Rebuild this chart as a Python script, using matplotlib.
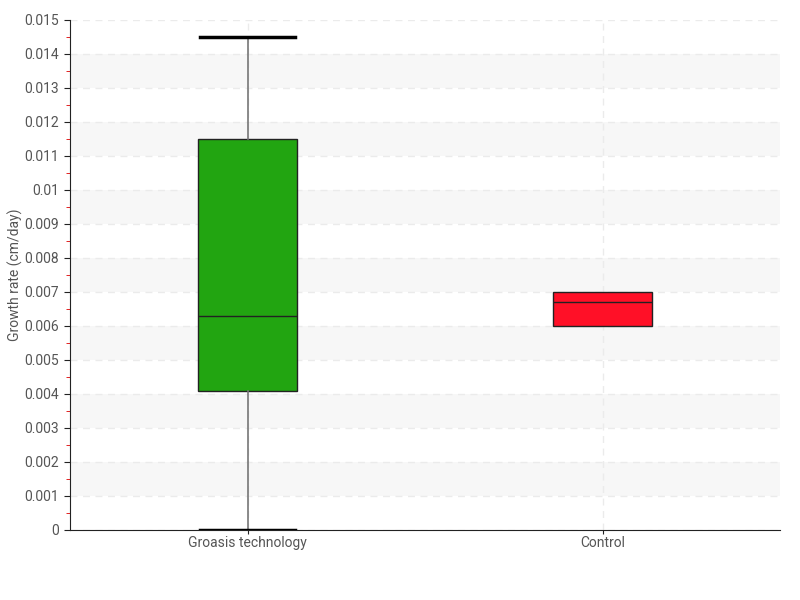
import matplotlib
matplotlib.use("Agg")
import matplotlib.pyplot as plt
from matplotlib.ticker import MultipleLocator

categories = ["Groasis technology", "Control"]
whisker_low = [0.0, 0.006]
q1 = [0.0041, 0.006]
median = [0.0063, 0.0067]
q3 = [0.0115, 0.007]
whisker_high = [0.0145, 0.007]
box_colors = ["#22a511", "#ff1027"]
y_ticks = [round(i * 0.001, 3) for i in range(16)]

plt.rcParams["font.family"] = ["Roboto", "DejaVu Sans"]

fig = plt.figure(figsize=(8, 6), dpi=100)
ax = fig.add_axes([0.0875, 0.1167, 0.8875, 0.85])

positions = [0.5, 1.5]
stats = [
    {"whislo": lo, "q1": a, "med": m, "q3": b, "whishi": hi, "label": c}
    for lo, a, m, b, hi, c in zip(whisker_low, q1, median, q3, whisker_high, categories)
]

# alternating bands
for start in range(1, 15, 2):
    ax.axhspan(start * 0.001, (start + 1) * 0.001, color="#f7f7f7", zorder=0, lw=0)

bp = ax.bxp(
    stats,
    positions=positions,
    widths=0.28,
    patch_artist=True,
    showfliers=False,
    boxprops=dict(edgecolor="#222222", linewidth=1),
    medianprops=dict(color="#222222", linewidth=1),
    whiskerprops=dict(color="#777777", linewidth=1.2),
    capprops=dict(color="black", linewidth=2.5),
    capwidths=0.27,
    zorder=3,
)
for patch, color in zip(bp["boxes"], box_colors):
    patch.set_facecolor(color)
# caps that sit on the box edge are not drawn
for i, s in enumerate(stats):
    if s["whislo"] == s["q1"]:
        bp["caps"][2 * i].set_visible(False)
    if s["whishi"] == s["q3"]:
        bp["caps"][2 * i + 1].set_visible(False)

ax.set_xlim(0, 2)
ax.set_ylim(0, 0.015)
ax.set_yticks(y_ticks)
ax.set_yticklabels([f"{v:g}" for v in y_ticks])
ax.yaxis.set_minor_locator(MultipleLocator(0.0005))
ax.set_xticks(positions)
ax.set_xticklabels(categories)

ax.grid(axis="y", color="#ebebeb", linestyle=(0, (5, 4)), linewidth=1, zorder=1)
ax.grid(axis="x", color="#ebebeb", linestyle=(0, (5, 4)), linewidth=1, zorder=1)
ax.set_axisbelow(True)

for side in ["top", "right"]:
    ax.spines[side].set_visible(False)
ax.spines["left"].set_color("#222222")
ax.spines["bottom"].set_color("#222222")

ax.tick_params(axis="y", which="major", length=4, color="#222222", labelsize=10, labelcolor="#555555", pad=4)
ax.tick_params(axis="y", which="minor", length=3, color="#dd0000")
ax.tick_params(axis="x", length=3, color="#222222", labelsize=10, labelcolor="#555555", pad=1)

ax.set_ylabel("Growth rate (cm/day)", fontsize=10, color="#555555", labelpad=1)

fig.savefig("out.png", dpi=100)
